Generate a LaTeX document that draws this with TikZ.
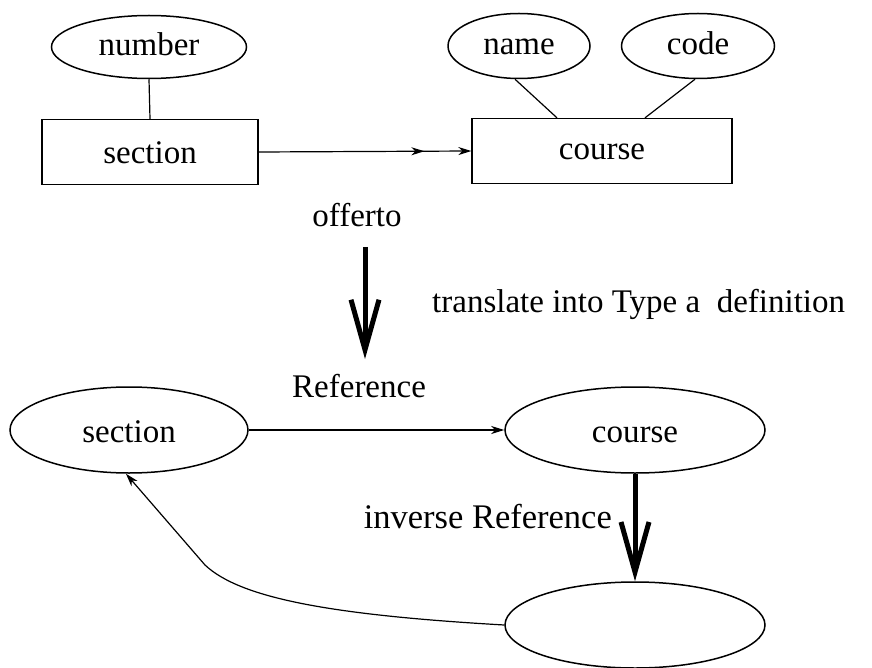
\documentclass[tikz,border=0pt]{standalone}
\usepackage{fontspec}
\setmainfont{Liberation Serif}
\usetikzlibrary{shapes.geometric,arrows.meta,calc}
\begin{document}
\begin{tikzpicture}[x=1pt,y=-1pt,
  every node/.style={font=\fontsize{33}{38}\selectfont, inner sep=0pt},
  attr/.style={draw, ellipse, line width=1.5pt, text height=24pt, text depth=6pt},
  ent/.style={draw, rectangle, line width=1.3pt, text height=24pt, text depth=6pt},
  low/.style={text height=28pt, text depth=4pt},
  thin/.style={line width=1.2pt},
  tip/.style={-{Stealth[length=13pt,width=8pt,inset=4pt]}},
  dtip/.style={-{Stealth[length=13pt,width=8pt,inset=4pt,sep=34pt]Stealth[length=13pt,width=8pt,inset=4pt]}},
  bigarrow/.style={line width=5pt,-{Straight Barb[length=50pt,width=28pt,line width=5pt]}},
  lbl/.style={anchor=base}]
\useasboundingbox (0,0) rectangle (872,668);
% top ER diagram
\node[attr, minimum width=195pt, minimum height=63pt] (number) at (149,47) {number};
\node[ent, minimum width=216pt, minimum height=65pt, low] (secbox) at (150,152) {section};
\node[attr, minimum width=142pt, minimum height=65pt] (name) at (519,46) {name};
\node[attr, minimum width=153pt, minimum height=65pt] (code) at (698,46) {code};
\node[ent, minimum width=260pt, minimum height=65pt] (coursebox) at (602,151) {course};
\draw[thin] (number.south) -- (secbox.north);
\draw[thin] ($(name.south)+(-4,0)$) -- ($(coursebox.north)+(-45,0)$);
\draw[thin] ($(code.south)+(-3,0)$) -- ($(coursebox.north)+(43,0)$);
\draw[thin, dtip] (secbox.east) -- (coursebox.west);
% translation
\node[lbl] (offerto) at (357,227) {offerto};
\coordinate (t1) at (365,247);
\coordinate (t2) at (365,359);
\draw[bigarrow] (t1) -- (t2);
\node[anchor=base west] (translate) at (432,312) {translate into Type a\ \ definition};
% bottom graph
\node[attr, low, minimum width=238pt, minimum height=86pt] (sec2) at (129,430) {section};
\node[attr, low, minimum width=260pt, minimum height=86pt] (course2) at (635,430) {course};
\node[attr, minimum width=260pt, minimum height=86pt] (anon) at (635,625) {};
\node[anchor=base west] (ref) at (292,397) {Reference};
\node[anchor=base east, font=\fontsize{34.5}{40}\selectfont] (invref) at (612,528) {inverse Reference};
\draw[thin, tip] (sec2.east) -- (course2.west);
\draw[bigarrow] (course2.south) -- (anon.north);
\coordinate (bend) at (205,565);
\draw[thin, tip] (anon.west) .. controls (330,615) and (240,598) .. (bend) -- (sec2.-94);
\end{tikzpicture}
\end{document}
